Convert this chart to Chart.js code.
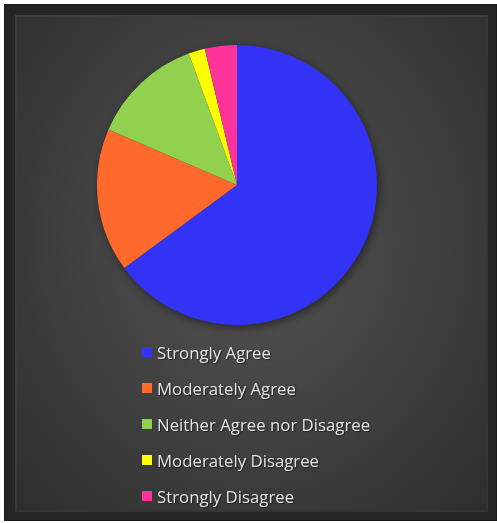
<!DOCTYPE html>
<html lang="en">
  <head>
    <meta charset="utf-8" />
    <title>Survey Responses</title>
    <style>
      * {
        margin: 0;
        padding: 0;
        box-sizing: border-box;
      }
      body {
        width: 497px;
        height: 523px;
        background: #ffffff;
        overflow: hidden;
        font-family: "Open Sans", "Lato", sans-serif;
      }
      /* dark picture frame */
      .frame {
        position: absolute;
        left: 4px;
        top: 4px;
        width: 493px;
        height: 517px;
        background: #242424;
        border: 1px solid #1a1a1a;
      }
      .panel {
        position: absolute;
        left: 10px;
        top: 10px;
        right: 8px;
        bottom: 8px;
        border-top: 2px solid #3c3c3c;
        border-left: 2px solid #3a3a3a;
        border-right: 2px solid #353535;
        border-bottom: 2px solid #353535;
        background: radial-gradient(ellipse at 50% 45%, #545454 0%, #434343 45%, #2e2e2e 100%);
      }
      #pie {
        position: absolute;
        left: 97px;
        top: 45px;
        filter: drop-shadow(2px 3px 4px rgba(0, 0, 0, 0.45));
      }
      #legend ul {
        position: absolute;
        left: 142px;
        top: 334px;
        list-style: none;
      }
      #legend li {
        display: flex;
        align-items: center;
        height: 36px;
        color: #e4e4e4;
        font-size: 16.8px;
        text-shadow: 1px 1px 1px rgba(0, 0, 0, 0.5);
      }
      #legend .box {
        width: 10px;
        height: 10px;
        margin-right: 5px;
      }
    </style>
  </head>
  <body>
    <div class="frame"><div class="panel"></div></div>
    <canvas id="pie" width="280" height="280"></canvas>
    <div id="legend"></div>

    <script src="https://cdn.jsdelivr.net/npm/chart.js"></script>
    <script>
      // response categories (clockwise from the top)
      const categories = [
        "Strongly Agree",
        "Moderately Agree",
        "Neither Agree nor Disagree",
        "Moderately Disagree",
        "Strongly Disagree",
      ];
      // share of responses, percent
      const shares = [64.9, 16.6, 12.9, 1.9, 3.7];
      const sliceColors = ["#3333f5", "#ff6a2c", "#92d050", "#ffff00", "#ff3399"];

      // Legend as an html list, one entry per row
      const htmlLegend = {
        id: "htmlLegend",
        afterUpdate(chart) {
          const holder = document.getElementById("legend");
          holder.innerHTML = "";
          const ul = document.createElement("ul");
          const items = chart.options.plugins.legend.labels.generateLabels(chart);
          items.forEach((item) => {
            const li = document.createElement("li");
            const box = document.createElement("span");
            box.className = "box";
            box.style.background = item.fillStyle;
            const txt = document.createElement("span");
            txt.textContent = item.text;
            li.appendChild(box);
            li.appendChild(txt);
            ul.appendChild(li);
          });
          holder.appendChild(ul);
        },
      };

      new Chart(document.getElementById("pie"), {
        type: "pie",
        data: {
          labels: categories,
          datasets: [
            {
              data: shares,
              backgroundColor: sliceColors,
              borderWidth: 0,
            },
          ],
        },
        options: {
          responsive: false,
          animation: false,
          layout: { padding: 0 },
          plugins: {
            legend: { display: false },
            tooltip: { enabled: false },
          },
        },
        plugins: [htmlLegend],
      });
    </script>
  </body>
</html>
